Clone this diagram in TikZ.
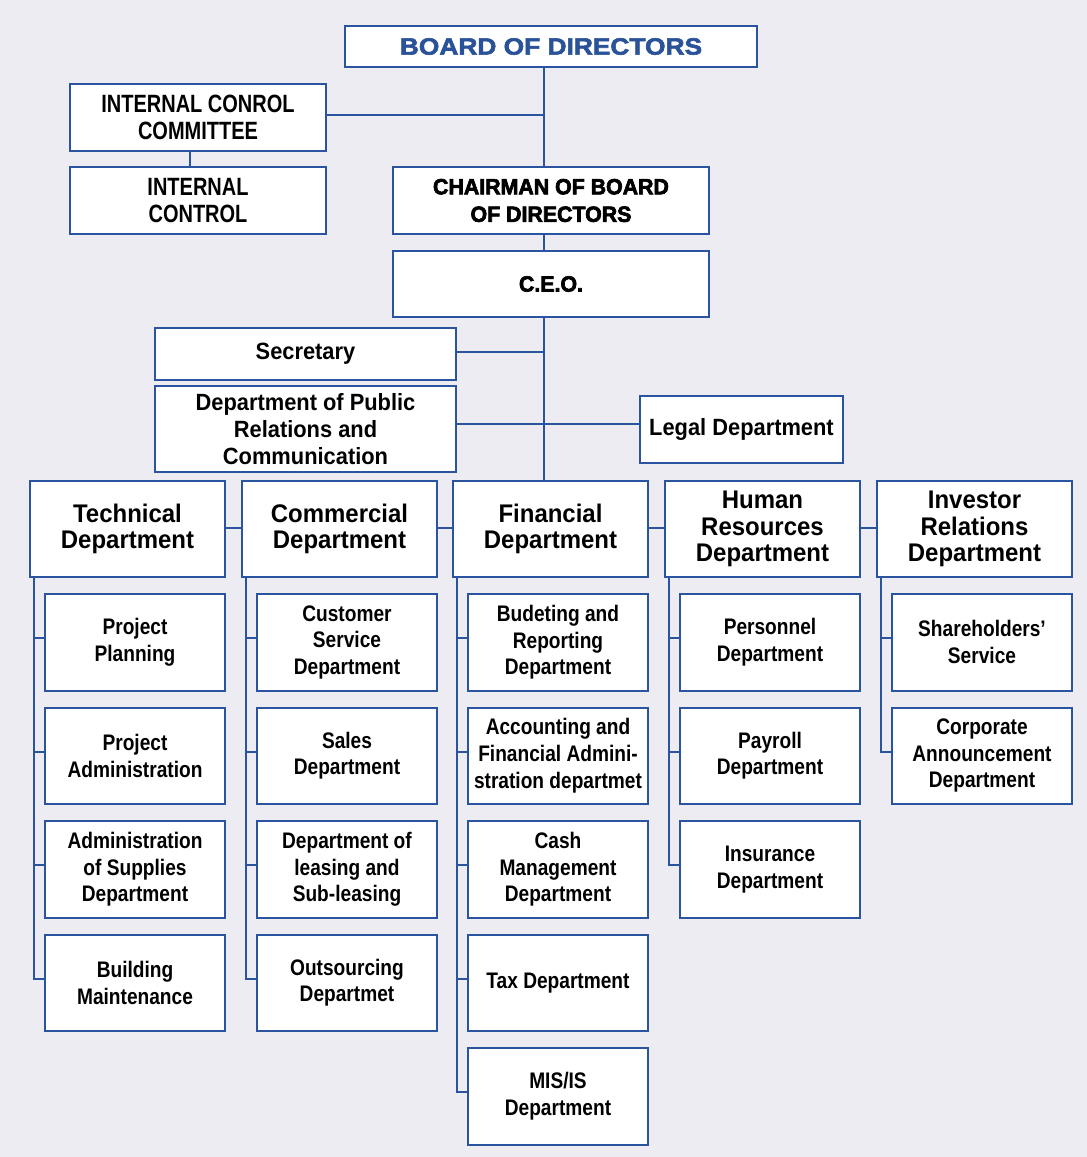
\documentclass[tikz,border=0pt]{standalone}
\usepackage{fontspec}
\setmainfont{Liberation Sans}
\newfontfamily\fBoard[FakeStretch=1.12,FakeBold=2.5]{Liberation Sans}
\newfontfamily\fIC[FakeStretch=0.8]{Liberation Sans}
\newfontfamily\fHeavy[FakeStretch=0.97,FakeBold=3]{Liberation Sans}
\newfontfamily\fMid[FakeStretch=0.93]{Liberation Sans}
\newfontfamily\fDept[FakeStretch=0.94]{Liberation Sans}
\newfontfamily\fSub[FakeStretch=0.85]{Liberation Sans}
\definecolor{bblue}{RGB}{43,84,160}
\definecolor{tblue}{RGB}{42,82,152}
\definecolor{bg}{RGB}{236,236,242}
\tikzset{
  box/.style={draw=bblue, line width=2pt, fill=white, inner sep=0pt, align=center, text=black},
  link/.style={draw=bblue, line width=2pt},
  boardbox/.style={box, text=tblue, minimum width=412, minimum height=41,
    font=\fBoard\bfseries\fontsize{23.5}{26.7}\selectfont},
  icbox/.style={box, minimum width=256, minimum height=67,
    font=\fIC\bfseries\fontsize{25}{26.7}\selectfont},
  heavybox/.style={box, minimum width=316,
    font=\fHeavy\bfseries\fontsize{22}{27.5}\selectfont},
  midbox/.style={box, font=\fMid\bfseries\fontsize{23.5}{26.7}\selectfont},
  deptbox/.style={box, minimum width=195, minimum height=96,
    font=\fDept\bfseries\fontsize{25.5}{26.7}\selectfont},
  subbox/.style={box, minimum width=180, minimum height=96.5,
    font=\fSub\bfseries\fontsize{22.5}{26.7}\selectfont},
}
\begin{document}
\begin{tikzpicture}[x=1pt,y=-1pt]
\fill[bg] (0,0) rectangle (1087,1157);
\useasboundingbox (0,0) rectangle (1087,1157);

% top level
\node[boardbox] (board) at (551,46.5) {BOARD OF DIRECTORS};
\node[icbox] (icc) at (198,117.5) {INTERNAL CONROL\\COMMITTEE};
\node[icbox] (ic) at (198,200.5) {INTERNAL\\CONTROL};
\node[heavybox, minimum height=67] (chair) at (551,200.5) {CHAIRMAN OF BOARD\\OF DIRECTORS};
\node[heavybox, minimum height=66] (ceo) at (551,284) {C.E.O.};
\node[midbox, minimum width=301, minimum height=52] (sec) at (305.5,354) {Secretary};
\node[midbox, minimum width=301, minimum height=86] (pr) at (305.5,429) {Department of Public\\Relations and\\Communication};
\node[midbox, minimum width=203, minimum height=67] (legal) at (741.5,429.5) {Legal Department};

% departments
\node[deptbox] (tech) at (127.5,529) {Technical\\Department};
\node[deptbox] (comm) at (339.5,529) {Commercial\\Department};
\node[deptbox] (fin)  at (550.5,529) {Financial\\Department};
\node[deptbox] (hr)   at (762.5,529) {Human\\Resources\\Department};
\node[deptbox] (inv)  at (974.5,529) {Investor\\Relations\\Department};

% sub units
\node[subbox] (tech1) at (135,642.25) {Project\\Planning};
\node[subbox] (tech2) at (135,755.75) {Project\\Administration};
\node[subbox] (tech3) at (135,869.25) {Administration\\of Supplies\\Department};
\node[subbox] (tech4) at (135,982.75) {Building\\Maintenance};

\node[subbox] (comm1) at (347,642.25) {Customer\\Service\\Department};
\node[subbox] (comm2) at (347,755.75) {Sales\\Department};
\node[subbox] (comm3) at (347,869.25) {Department of\\leasing and\\Sub-leasing};
\node[subbox] (comm4) at (347,982.75) {Outsourcing\\Departmet};

\node[subbox] (fin1) at (558,642.25) {Budeting and\\Reporting\\Department};
\node[subbox] (fin2) at (558,755.75) {Accounting and\\Financial Admini-\\stration departmet};
\node[subbox] (fin3) at (558,869.25) {Cash\\Management\\Department};
\node[subbox] (fin4) at (558,982.75) {Tax Department};
\node[subbox] (fin5) at (558,1096.25) {MIS/IS\\Department};

\node[subbox] (hr1) at (770,642.25) {Personnel\\Department};
\node[subbox] (hr2) at (770,755.75) {Payroll\\Department};
\node[subbox] (hr3) at (770,869.25) {Insurance\\Department};

\node[subbox] (inv1) at (982,642.25) {Shareholders’\\Service};
\node[subbox] (inv2) at (982,755.75) {Corporate\\Announcement\\Department};

% connectors
\coordinate (trunk) at (544,0);
\draw[link] (board.south -| trunk) -- (chair.north -| trunk);
\draw[link] (chair.south -| trunk) -- (ceo.north -| trunk);
\draw[link] (ceo.south -| trunk) -- (fin.north -| trunk);
\coordinate (j1) at (544,115);
\draw[link] (icc.east |- j1) -- (j1);
\coordinate (icx) at (190,0);
\draw[link] (icc.south -| icx) -- (ic.north -| icx);
\coordinate (j2) at (544,352);
\draw[link] (sec.east |- j2) -- (j2);
\coordinate (j3) at (544,424);
\draw[link] (pr.east |- j3) -- (legal.west |- j3);

\coordinate (dy) at (0,528);
\draw[link] (tech.east |- dy) -- (comm.west |- dy);
\draw[link] (comm.east |- dy) -- (fin.west |- dy);
\draw[link] (fin.east |- dy) -- (hr.west |- dy);
\draw[link] (hr.east |- dy) -- (inv.west |- dy);

\coordinate (sp-tech) at (33.5,0);
\coordinate (sp-comm) at (245.5,0);
\coordinate (sp-fin) at (456.5,0);
\coordinate (sp-hr) at (668.5,0);
\coordinate (sp-inv) at (880.5,0);
\foreach \d/\n in {tech/4, comm/4, fin/5, hr/3, inv/2}{
  \foreach \i in {1,...,\n}{
    \draw[link] (\d.south -| sp-\d) |- ([yshift=4pt]\d\i.west);
  }
}
\end{tikzpicture}
\end{document}
